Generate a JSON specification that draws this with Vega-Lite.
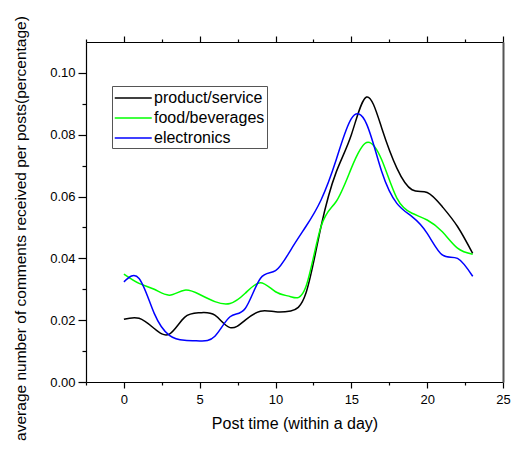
{
  "$schema": "https://vega.github.io/schema/vega-lite/v6.json",
  "width": 417,
  "height": 340,
  "autosize": {"type": "none"},
  "padding": {"left": 86, "top": 42, "right": 17, "bottom": 70},
  "background": "white",
  "config": {
    "view": {"stroke": null},
    "font": "Liberation Sans",
    "axis": {
      "grid": false,
      "domainColor": "black",
      "tickColor": "black",
      "labelColor": "black",
      "titleColor": "black",
      "labelFont": "Liberation Sans",
      "titleFont": "Liberation Sans",
      "titleFontWeight": "normal",
      "domainWidth": 1.2,
      "tickWidth": 1.2
    },
    "legend": {"labelFont": "Liberation Sans"}
  },
  "datasets": {
    "series": [
      {"h": 0, "cat": "product/service", "v": 0.0203},
      {"h": 1, "cat": "product/service", "v": 0.0206},
      {"h": 2, "cat": "product/service", "v": 0.0173},
      {"h": 3, "cat": "product/service", "v": 0.0155},
      {"h": 4, "cat": "product/service", "v": 0.0209},
      {"h": 5, "cat": "product/service", "v": 0.0224},
      {"h": 6, "cat": "product/service", "v": 0.0216},
      {"h": 7, "cat": "product/service", "v": 0.0176},
      {"h": 8, "cat": "product/service", "v": 0.0200},
      {"h": 9, "cat": "product/service", "v": 0.0229},
      {"h": 10, "cat": "product/service", "v": 0.0227},
      {"h": 11, "cat": "product/service", "v": 0.0230},
      {"h": 12, "cat": "product/service", "v": 0.0287},
      {"h": 13, "cat": "product/service", "v": 0.0503},
      {"h": 14, "cat": "product/service", "v": 0.0679},
      {"h": 15, "cat": "product/service", "v": 0.0800},
      {"h": 16, "cat": "product/service", "v": 0.0922},
      {"h": 17, "cat": "product/service", "v": 0.0822},
      {"h": 18, "cat": "product/service", "v": 0.0692},
      {"h": 19, "cat": "product/service", "v": 0.0622},
      {"h": 20, "cat": "product/service", "v": 0.0613},
      {"h": 21, "cat": "product/service", "v": 0.0567},
      {"h": 22, "cat": "product/service", "v": 0.0503},
      {"h": 23, "cat": "product/service", "v": 0.0416},
      {"h": 0, "cat": "food/beverages", "v": 0.0349},
      {"h": 1, "cat": "food/beverages", "v": 0.0319},
      {"h": 2, "cat": "food/beverages", "v": 0.0300},
      {"h": 3, "cat": "food/beverages", "v": 0.0281},
      {"h": 4, "cat": "food/beverages", "v": 0.0297},
      {"h": 5, "cat": "food/beverages", "v": 0.0283},
      {"h": 6, "cat": "food/beverages", "v": 0.0260},
      {"h": 7, "cat": "food/beverages", "v": 0.0254},
      {"h": 8, "cat": "food/beverages", "v": 0.0287},
      {"h": 9, "cat": "food/beverages", "v": 0.0321},
      {"h": 10, "cat": "food/beverages", "v": 0.0292},
      {"h": 11, "cat": "food/beverages", "v": 0.0276},
      {"h": 12, "cat": "food/beverages", "v": 0.0308},
      {"h": 13, "cat": "food/beverages", "v": 0.0503},
      {"h": 14, "cat": "food/beverages", "v": 0.0584},
      {"h": 15, "cat": "food/beverages", "v": 0.0692},
      {"h": 16, "cat": "food/beverages", "v": 0.0775},
      {"h": 17, "cat": "food/beverages", "v": 0.0719},
      {"h": 18, "cat": "food/beverages", "v": 0.0595},
      {"h": 19, "cat": "food/beverages", "v": 0.0546},
      {"h": 20, "cat": "food/beverages", "v": 0.0524},
      {"h": 21, "cat": "food/beverages", "v": 0.0486},
      {"h": 22, "cat": "food/beverages", "v": 0.0433},
      {"h": 23, "cat": "food/beverages", "v": 0.0413},
      {"h": 0, "cat": "electronics", "v": 0.0324},
      {"h": 1, "cat": "electronics", "v": 0.0335},
      {"h": 2, "cat": "electronics", "v": 0.0222},
      {"h": 3, "cat": "electronics", "v": 0.0151},
      {"h": 4, "cat": "electronics", "v": 0.0135},
      {"h": 5, "cat": "electronics", "v": 0.0133},
      {"h": 6, "cat": "electronics", "v": 0.0148},
      {"h": 7, "cat": "electronics", "v": 0.0211},
      {"h": 8, "cat": "electronics", "v": 0.0238},
      {"h": 9, "cat": "electronics", "v": 0.0335},
      {"h": 10, "cat": "electronics", "v": 0.0360},
      {"h": 11, "cat": "electronics", "v": 0.0427},
      {"h": 12, "cat": "electronics", "v": 0.0503},
      {"h": 13, "cat": "electronics", "v": 0.0589},
      {"h": 14, "cat": "electronics", "v": 0.0719},
      {"h": 15, "cat": "electronics", "v": 0.0852},
      {"h": 16, "cat": "electronics", "v": 0.0835},
      {"h": 17, "cat": "electronics", "v": 0.0681},
      {"h": 18, "cat": "electronics", "v": 0.0578},
      {"h": 19, "cat": "electronics", "v": 0.0535},
      {"h": 20, "cat": "electronics", "v": 0.0481},
      {"h": 21, "cat": "electronics", "v": 0.0411},
      {"h": 22, "cat": "electronics", "v": 0.0400},
      {"h": 23, "cat": "electronics", "v": 0.0342}
    ]
  },
  "data": {"name": "series"},
  "layer": [
    {
      "mark": {"type": "line", "interpolate": "natural", "strokeWidth": 1.5, "clip": true},
      "encoding": {
        "x": {
          "field": "h",
          "type": "quantitative",
          "scale": {"domain": [-2.5, 25], "nice": false, "zero": false},
          "axis": {
            "orient": "bottom",
            "values": [-2.5, 0, 2.5, 5, 7.5, 10, 12.5, 15, 17.5, 20, 22.5, 25],
            "labelExpr": "datum.value % 5 === 0 ? datum.label : ''",
            "format": "d",
            "tickSize": {"condition": {"test": "datum.value % 5 === 0", "value": 6}, "value": 3},
            "labelFontSize": 13,
            "labelPadding": 5,
            "labelFlush": false,
            "title": "Post time (within a day)",
            "titleFontSize": 16,
            "titleY": 46,
            "titleBaseline": "alphabetic"
          }
        },
        "y": {
          "field": "v",
          "type": "quantitative",
          "scale": {"domain": [0, 0.11], "nice": false},
          "axis": {
            "orient": "left",
            "values": [0, 0.01, 0.02, 0.03, 0.04, 0.05, 0.06, 0.07, 0.08, 0.09, 0.1],
            "labelExpr": "round(datum.value * 100) % 2 === 0 ? format(datum.value, '.2f') : ''",
            "tickSize": {"condition": {"test": "round(datum.value * 100) % 2 === 0", "value": 8}, "value": 4},
            "labelFontSize": 13,
            "labelPadding": 3,
            "labelFlush": false,
            "title": "average number of comments received per posts(percentage)",
            "titleFontSize": 15.5,
            "titleX": -61,
            "titleY": 186,
            "titleBaseline": "alphabetic"
          }
        },
        "color": {
          "field": "cat",
          "type": "nominal",
          "scale": {
            "domain": ["product/service", "food/beverages", "electronics"],
            "range": ["#000000", "#00ff00", "#0000ff"]
          },
          "legend": {
            "orient": "none",
            "legendX": 26,
            "legendY": 44,
            "title": null,
            "strokeColor": "#555555",
            "fillColor": "white",
            "padding": 2,
            "symbolType": "M-1,0H3",
            "symbolSize": 342,
            "symbolStrokeWidth": 1.5,
            "labelFontSize": 16,
            "labelOffset": 20,
            "rowPadding": 2,
            "labelColor": "black"
          }
        }
      }
    },
    {
      "mark": {"type": "line", "opacity": 0},
      "encoding": {
        "x": {
          "field": "h",
          "type": "quantitative",
          "axis": {
            "orient": "top",
            "values": [-2.5, 0, 2.5, 5, 7.5, 10, 12.5, 15, 17.5, 20, 22.5, 25],
            "labels": false,
            "title": null,
            "tickSize": {"condition": {"test": "datum.value % 5 === 0", "value": 6}, "value": 3}
          }
        },
        "y": {
          "field": "v",
          "type": "quantitative",
          "axis": {
            "orient": "right",
            "labels": false,
            "ticks": false,
            "title": null,
            "domainColor": "#555555",
            "domainWidth": 2
          }
        }
      }
    }
  ],
  "resolve": {"axis": {"x": "independent", "y": "independent"}}
}
